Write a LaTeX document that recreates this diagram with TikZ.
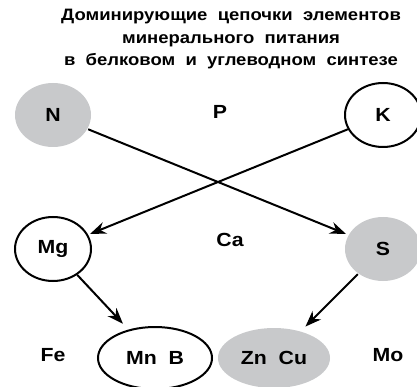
\documentclass[tikz,border=0pt]{standalone}
\usepackage{fontspec}
\setmainfont{Liberation Sans}[FakeStretch=1.12]
\usetikzlibrary{arrows.meta,positioning,shapes.geometric}
\definecolor{elgray}{RGB}{200,201,203}
\tikzstyle{elem} = [ellipse, draw, line width=2pt, inner sep=0pt,
    minimum width=76pt, minimum height=64pt, font=\bfseries\fontsize{19}{19}\selectfont]
\tikzstyle{dark} = [elem, draw=none, fill=elgray]
\tikzstyle{free} = [font=\bfseries\fontsize{19}{19}\selectfont]
\tikzstyle{line} = [draw, line width=2pt, shorten >=2pt, -{Stealth[length=16pt,width=12pt]}]

\begin{document}
\begin{tikzpicture}[x=1pt,y=1pt]
        \useasboundingbox (0,0) rectangle (417,-387);
        % Title
        \node [align=center, font=\bfseries\fontsize{16.5}{22.5}\selectfont] (title) at (231,-39.5)
            {Доминирующие\ \ цепочки\ \ элементов\\минерального\ \ питания\\в\ \ белковом\ \ и\ \ углеводном\ \ синтезе};
        % Place nodes
        \node [dark] (N) at (53,-115) {N};
        \node [elem] (K) [right =252pt of N] {K};
        \node [elem] (Mg) [below =68pt of N] {Mg};
        \node [dark] (S) [below =68pt of K] {S};
        \node [elem, minimum width=114pt, minimum height=62pt] (MnB) at (155,-358) {Mn\ \ B};
        \node [dark, minimum width=112pt, minimum height=60pt] (ZnCu) at (274,-358) {Zn\ \ Cu};
        \node [free] (P) at (220,-112) {P};
        \node [free] (Ca) at (230,-240) {Ca};
        \node [free] (Fe) at (53,-355) {Fe};
        \node [free] (Mo) at (388,-355) {Mo};
        % Draw edges
        \path [line] (N) -- (S);
        \path [line] (K) -- (Mg);
        \path [line, shorten >=8pt] (Mg) -- (MnB);
        \path [line, shorten >=6pt] (S) -- (ZnCu);
    \end{tikzpicture}
\end{document}
